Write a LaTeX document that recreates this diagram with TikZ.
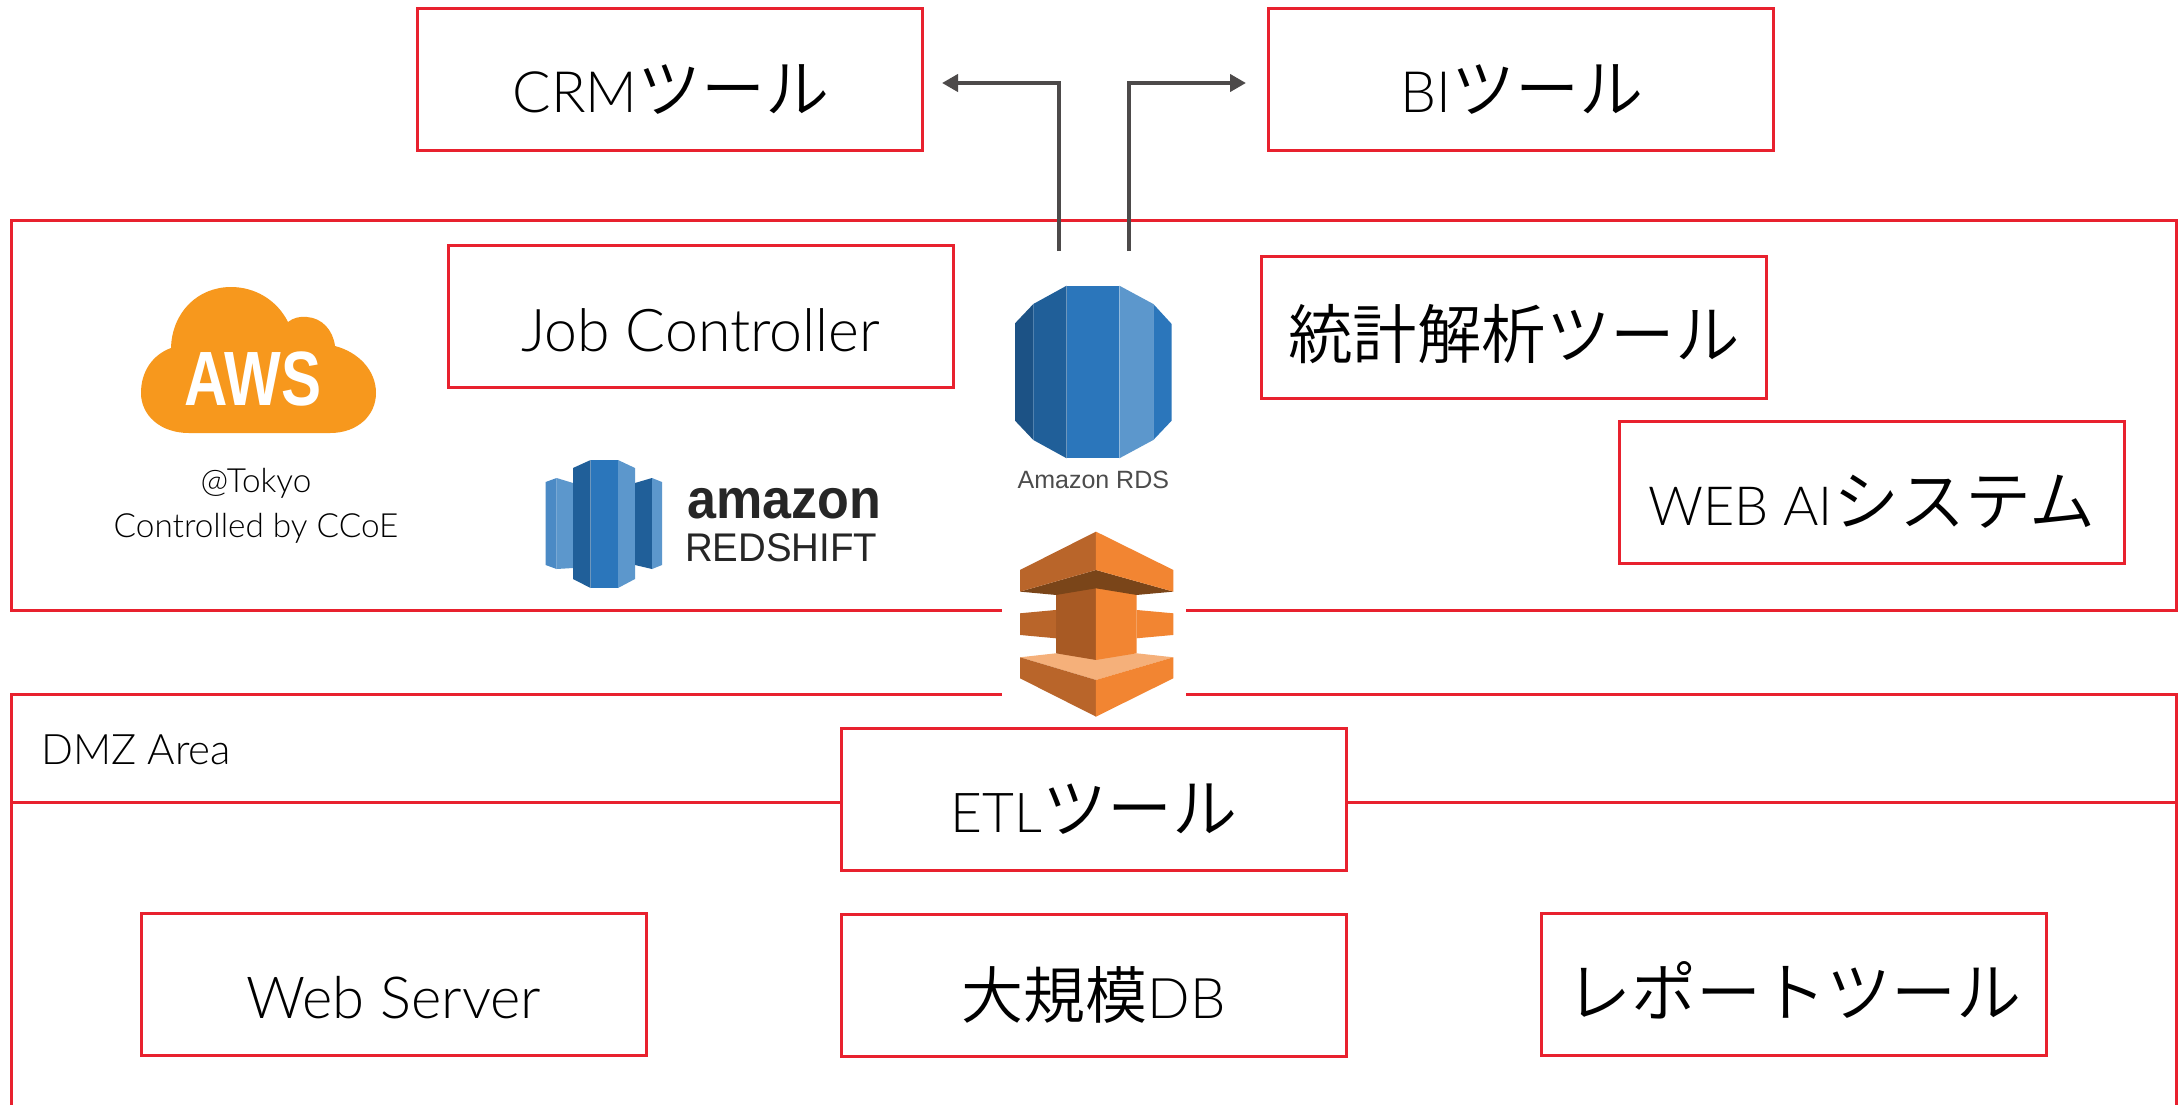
\documentclass[tikz,border=0pt]{standalone}
\usepackage{fontspec}
\setmainfont{Lato}[UprightFont={* Light}]
\newfontfamily\cjk{Noto Sans CJK JP}[UprightFont={* DemiLight}]
\newfontfamily\lib{Liberation Sans}
\newfontfamily\libb{Liberation Sans Bold}
\definecolor{redl}{HTML}{E8212E}
\definecolor{grayl}{HTML}{4D4A4A}
\definecolor{oA}{HTML}{B9652A}
\definecolor{oB}{HTML}{F28532}
\definecolor{oC}{HTML}{7A4519}
\definecolor{oD}{HTML}{A85A24}
\definecolor{oE}{HTML}{F5B07A}
\definecolor{bA}{HTML}{1C5285}
\definecolor{bB}{HTML}{205F99}
\definecolor{bC}{HTML}{2B76BB}
\definecolor{bD}{HTML}{5C97CC}
\definecolor{awsO}{HTML}{F7981D}
\newcommand\fs[1]{\fontsize{#1}{#1}\selectfont}
\newcommand\bt[2]{\raisebox{#1pt}[0pt][0pt]{#2}}
\newcommand\jp[2]{{\fs{#1}\cjk #2}}
\usetikzlibrary{arrows.meta}
\tikzset{
  x=1pt,y=-1pt,
  redbox/.style={draw=redl,line width=3pt,fill=white,minimum width=505.5pt,minimum height=141.5pt,inner sep=0pt,outer sep=0pt,anchor=north west,xshift=1pt,yshift=-.6pt},
  regbox/.style={draw=redl,line width=3pt,inner sep=0pt,outer sep=0pt,anchor=north west,xshift=.5pt},
  conn/.style={draw=grayl,line width=4.5pt,-{Triangle[length=16pt,width=17pt]}},
  lbl/.style={inner sep=0pt},
}
\begin{document}
\begin{tikzpicture}
\useasboundingbox (0,0) rectangle (2182,1104);
\fill[white] (0,0) rectangle (2182,1104);
% regions
\node[regbox,minimum width=2165pt,minimum height=390pt] (cloudreg) at (11,220) {};
\draw[redl,line width=3pt] (11.5,1106) -- (11.5,694) -- (2176,694) -- (2176,1106);
\draw[redl,line width=3pt] (11.5,802) -- (2176,802);
\node[lbl,anchor=base] (dmz) at (136,764) {\fs{42}DMZ Area};
% mask behind the orange icon
\fill[white] (1002,600) rectangle (1186,705);
% boxes
\node[redbox] (crm) at (416,8) {\bt{-33}{\hspace{3pt}\fs{57}CRM\jp{64}{ツール}}};
\node[redbox] (bi) at (1267,8) {\bt{-33}{\hspace{3pt}\fs{57}BI\jp{64}{ツール}}};
\node[redbox] (job) at (447,245) {\bt{-35}{\fs{59}Job Controller}};
\node[redbox] (stat) at (1260,256) {\bt{-31}{\jp{64.5}{統計解析ツール}}};
\node[redbox] (web) at (1618,421) {\bt{-33}{\fs{54}WEB AI\jp{66}{システム}}};
\node[redbox] (etl) at (840,728) {\bt{-33}{\fs{55}ETL\jp{65}{ツール}}};
\node[redbox] (srv) at (140,913) {\bt{-34}{\fs{58}Web Server}};
\node[redbox] (bigdb) at (840,914) {\bt{-33}{\jp{62}{大規模}\fs{56}DB}};
\node[redbox] (rep) at (1540,913) {\bt{-32}{\jp{65}{レポートツール}}};
% AWS cloud
\fill[awsO] (189,433) .. controls (160,433) and (141,415) .. (141,393) .. controls (141,372) and (152,355) .. (171,348) .. controls (172,312) and (198,287) .. (231,287) .. controls (255,287) and (277,300) .. (288,322) .. controls (293,318) and (300,316) .. (307,317) .. controls (322,318) and (333,330) .. (335,346) .. controls (358,352) and (376,370) .. (376,393) .. controls (376,415) and (358,433) .. (330,433) -- cycle;
\node[lbl,white] (awst) at (253,379) {\libb\fs{77}\scalebox{.78}[1]{AWS}};
\node[lbl] (tok) at (256,483) {\fs{33.3}@Tokyo};
\node[lbl] (ccoe) at (256,528) {\fs{33.3}Controlled by CCoE};
% Redshift
\fill[bC!85!white] (545.6,482) -- (556.6,478) -- (556.6,569) -- (545.6,565) -- cycle;
\fill[bD] (556.6,478) -- (573,483) -- (573,568) -- (556.6,569) -- cycle;
\fill[bB] (573,468) -- (590.6,460) -- (590.6,588) -- (573,579) -- cycle;
\fill[bC] (590.6,460) rectangle (618,588);
\fill[bD] (618,460) -- (635,468) -- (635,579) -- (618,588) -- cycle;
\fill[bB] (635,483) -- (652,478) -- (652,569) -- (635,565) -- cycle;
\fill[bD] (652,478) -- (662,482) -- (662,565) -- (652,569) -- cycle;
\node[lbl,anchor=base west] (amz) at (687,518) {\libb\fs{56}\scalebox{.93}[1]{\color{black!85}amazon}};
\node[lbl,anchor=base west] (rsh) at (685,561) {\lib\fs{40}\scalebox{.96}[1]{\color{black!85}REDSHIFT}};
% RDS
\begin{scope}[shift={(960,230)},x=.3333pt,y=-.3333pt]
\fill[bA] (165,280) -- (220,222) -- (220,630) -- (165,572) -- cycle;
\fill[bB] (220,222) -- (320,167) -- (320,685) -- (220,630) -- cycle;
\fill[bC] (320,167) rectangle (478,685);
\fill[bD] (478,167) -- (580,222) -- (580,630) -- (478,685) -- cycle;
\fill[bC] (580,222) -- (635,282) -- (635,572) -- (580,630) -- cycle;
\node[lbl,text=black!70] (rds) at (400,750) {\lib\fs{25}Amazon RDS};
% orange
\fill[oE] (180,1282) -- (288,1270) -- (530,1270) -- (640,1282) -- (408,1350) -- cycle;
\fill[oA] (180,1282) -- (408,1350) -- (408,1460) -- (180,1345) -- cycle;
\fill[oB] (640,1282) -- (408,1350) -- (408,1460) -- (640,1345) -- cycle;
\fill[oA] (180,1150) -- (288,1140) -- (288,1225) -- (180,1215) -- cycle;
\fill[oB] (640,1150) -- (530,1140) -- (530,1225) -- (640,1215) -- cycle;
\fill[oD] (288,1085) -- (408,1070) -- (408,1290) -- (288,1270) -- cycle;
\fill[oB] (530,1085) -- (408,1070) -- (408,1290) -- (530,1270) -- cycle;
\fill[oC] (180,1085) -- (408,1020) -- (640,1085) -- (530,1095) -- (408,1075) -- (288,1095) -- cycle;
\fill[oA] (408,905) -- (180,1020) -- (180,1085) -- (408,1020) -- cycle;
\fill[oB] (408,905) -- (640,1020) -- (640,1085) -- (408,1020) -- cycle;
\end{scope}
% connectors
\coordinate (s1) at (1059,251);
\coordinate (s2) at (1129,251);
\coordinate (e1) at (942,83);
\coordinate (e2) at (1246,83);
\draw[conn] (s1) |- (e1);
\draw[conn] (s2) |- (e2);
\end{tikzpicture}
\end{document}
